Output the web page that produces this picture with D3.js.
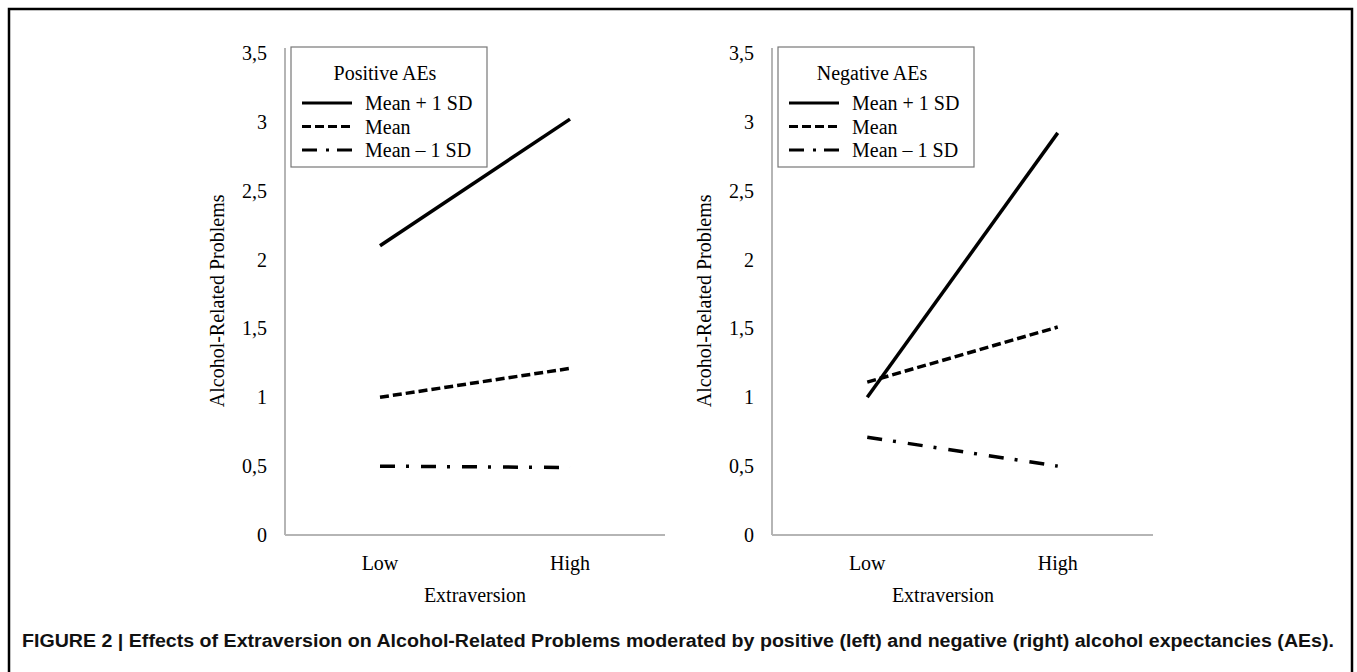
<!DOCTYPE html>
<html>
<head>
<meta charset="utf-8">
<script src="https://cdn.jsdelivr.net/npm/d3@7"></script>
<style>
  body { margin: 0; background: #fff; }
  svg { display: block; }
</style>
</head>
<body>
<div id="wrapper"></div>
<script>
// values
const categories = ["Low", "High"]
const seriesNames = ["Mean + 1 SD", "Mean", "Mean \u2013 1 SD"]
const yTicks = [0, 0.5, 1, 1.5, 2, 2.5, 3, 3.5]
const positiveAEs = [[2.1, 3.02], [1.0, 1.21], [0.5, 0.49]]
const negativeAEs = [[1.0, 2.92], [1.11, 1.51], [0.71, 0.5]]

const width = 1357, height = 672
const dashes = [null, "9,4", "15,11,3,12"]
const serif = "'Liberation Serif', 'Times New Roman', serif"

const svg = d3.select("#wrapper")
  .append("svg")
    .attr("width", width)
    .attr("height", height)

// outer frame (open at the bottom)
svg.append("path")
  .attr("d", "M9,672 V9 H1352 V672")
  .attr("fill", "none")
  .attr("stroke", "#000")
  .attr("stroke-width", 2.5)

const y = d3.scaleLinear().domain([0, 3.5]).range([535, 53])

const panels = [
  { title: "Positive AEs", data: positiveAEs, x0: 285, x1: 665, xTitle: 475 },
  { title: "Negative AEs", data: negativeAEs, x0: 772, x1: 1153, xTitle: 943 }
]

panels.forEach(p => {
  const x = d3.scalePoint().domain(categories).range([p.x0, p.x1]).padding(0.5)
  const g = svg.append("g")

  // axes
  g.append("line")
    .attr("x1", p.x0).attr("x2", p.x0)
    .attr("y1", y(3.5) - 5).attr("y2", y(0))
    .attr("stroke", "#b5b5b5").attr("stroke-width", 2)
  g.append("line")
    .attr("x1", p.x0).attr("x2", p.x1)
    .attr("y1", y(0)).attr("y2", y(0))
    .attr("stroke", "#b5b5b5").attr("stroke-width", 2)

  g.selectAll(".ytick")
    .data(yTicks)
    .join("text")
      .attr("x", p.x0 - 18)
      .attr("y", d => y(d))
      .attr("dy", "0.35em")
      .attr("text-anchor", "end")
      .attr("font-family", serif)
      .attr("font-size", 20)
      .text(d => String(d).replace(".", ","))

  g.selectAll(".xtick")
    .data(categories)
    .join("text")
      .attr("x", d => x(d))
      .attr("y", 570)
      .attr("text-anchor", "middle")
      .attr("font-family", serif)
      .attr("font-size", 20)
      .text(d => d)

  g.append("text")
    .attr("x", p.xTitle)
    .attr("y", 602)
    .attr("text-anchor", "middle")
    .attr("font-family", serif)
    .attr("font-size", 20)
    .text("Extraversion")

  g.append("text")
    .attr("transform", `translate(${p.x0 - 61},${y(1.7)}) rotate(-90)`)
    .attr("text-anchor", "middle")
    .attr("font-family", serif)
    .attr("font-size", 20)
    .text("Alcohol-Related Problems")

  // series lines
  const line = d3.line()
    .x((d, i) => x(categories[i]))
    .y(d => y(d))

  g.selectAll(".series")
    .data(p.data)
    .join("path")
      .attr("d", d => line(d))
      .attr("fill", "none")
      .attr("stroke", "#000")
      .attr("stroke-width", 3.5)
      .attr("stroke-dasharray", (d, i) => dashes[i])

  // legend
  const lg = g.append("g").attr("transform", `translate(${p.x0 + 6},47)`)
  lg.append("rect")
    .attr("width", 196).attr("height", 120)
    .attr("fill", "#fff")
    .attr("stroke", "#777").attr("stroke-width", 1.2)
  lg.append("text")
    .attr("x", 94).attr("y", 33)
    .attr("text-anchor", "middle")
    .attr("font-family", serif)
    .attr("font-size", 20)
    .text(p.title)
  const rows = lg.selectAll(".row")
    .data(seriesNames)
    .join("g")
      .attr("transform", (d, i) => `translate(0,${56 + i * 23.5})`)
  rows.append("line")
    .attr("x1", 11).attr("x2", 61)
    .attr("stroke", "#000").attr("stroke-width", 3.2)
    .attr("stroke-dasharray", (d, i) => i === 2 ? "15,9,3,8" : dashes[i])
  rows.append("text")
    .attr("x", 74).attr("dy", "0.35em")
    .attr("font-family", serif)
    .attr("font-size", 20)
    .text(d => d)
})

svg.append("text")
  .attr("x", 22)
  .attr("y", 647)
  .attr("font-family", "'Liberation Sans Narrow', 'Liberation Sans', Arial, sans-serif")
  .attr("font-weight", "bold")
  .attr("font-size", 18)
  .attr("fill", "#111")
  .attr("textLength", 1312)
  .attr("lengthAdjust", "spacingAndGlyphs")
  .text("FIGURE 2 | Effects of Extraversion on Alcohol-Related Problems moderated by positive (left) and negative (right) alcohol expectancies (AEs).")
</script>
</body>
</html>
